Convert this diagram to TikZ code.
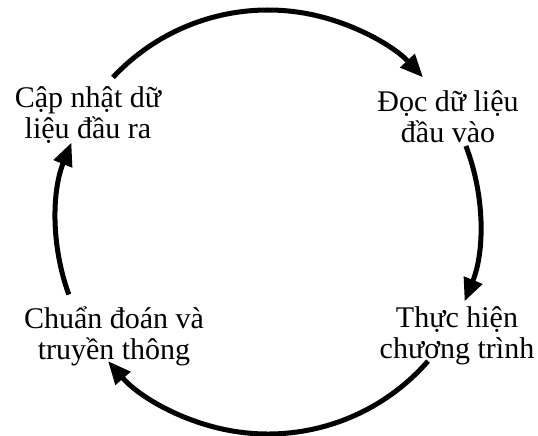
\documentclass[tikz,border=0pt]{standalone}
\usepackage{fontspec}
\setmainfont{Liberation Serif}
\usepackage{tikz}
\usetikzlibrary{arrows.meta}
\tikzset{
  steplab/.style={align=center,inner sep=0pt,
    font=\fontsize{30}{31}\selectfont},
  cycflow/.style={-{Triangle[length=23pt,width=19pt]},line width=5pt,draw=black}
}
\begin{document}
\begin{tikzpicture}[x=1pt,y=1pt]
  \useasboundingbox (0,0) rectangle (538,-436);
  \coordinate (c) at (268,-222);
  \node[steplab] (upd) at (88,-115) {Cập nhật dữ\\liệu đầu ra};
  \node[steplab] (read) at (448,-117) {Đọc dữ liệu\\đầu vào};
  \node[steplab] (run) at (457,-336) {Thực hiện\\chương trình};
  \node[steplab] (diag) at (114,-336) {Chuẩn đoán và\\truyền thông};
  % points on the ring
  \path (c) ++(137:212) coordinate (t1);
  \path (c) ++(21:212) coordinate (r1);
  \path (c) ++(-41:212) coordinate (b1);
  \path (c) ++(200:212) coordinate (l1);
  \draw[cycflow] (t1) arc[start angle=137,end angle=43,radius=212];
  \draw[cycflow] (r1) arc[start angle=21,end angle=-22,radius=212];
  \draw[cycflow] (b1) arc[start angle=-41,end angle=-139,radius=212];
  \draw[cycflow] (l1) arc[start angle=200,end angle=158,radius=212];
\end{tikzpicture}
\end{document}
